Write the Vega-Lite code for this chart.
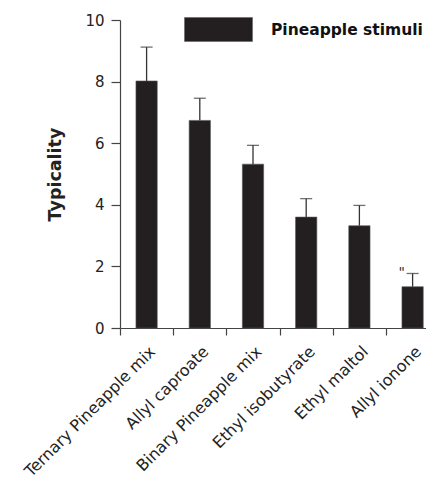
{
  "$schema": "https://vega.github.io/schema/vega-lite/v6.json",
  "width": 306,
  "height": 308,
  "autosize": {"type": "none"},
  "padding": {"left": 120, "top": 20, "right": 0, "bottom": 152},
  "background": "white",
  "config": {
    "view": {"stroke": null},
    "font": "DejaVu Sans",
    "axis": {"grid": false, "domainColor": "#444", "tickColor": "#444", "labelColor": "#222", "titleColor": "#222", "domainWidth": 1.2, "tickWidth": 1.2}
  },
  "data": {
    "values": [
      {"stimulus": "Ternary Pineapple mix", "typicality": 8.02, "upper": 9.12, "series": "Pineapple stimuli", "note": ""},
      {"stimulus": "Allyl caproate", "typicality": 6.74, "upper": 7.46, "series": "Pineapple stimuli", "note": ""},
      {"stimulus": "Binary Pineapple mix", "typicality": 5.32, "upper": 5.93, "series": "Pineapple stimuli", "note": ""},
      {"stimulus": "Ethyl isobutyrate", "typicality": 3.6, "upper": 4.2, "series": "Pineapple stimuli", "note": ""},
      {"stimulus": "Ethyl maltol", "typicality": 3.32, "upper": 3.98, "series": "Pineapple stimuli", "note": ""},
      {"stimulus": "Allyl ionone", "typicality": 1.34, "upper": 1.77, "series": "Pineapple stimuli", "note": "\""}
    ]
  },
  "encoding": {
    "x": {
      "field": "stimulus", "type": "nominal", "sort": null,
      "scale": {"paddingInner": 0, "paddingOuter": 0, "range": [0, 319.2]},
      "axis": {"title": null, "labelAngle": -45, "labelFontSize": 16, "labelAlign": "right", "labelBaseline": "top", "labelDx": 5, "labelLimit": 400, "tickBand": "extent", "tickSize": 7, "labelPadding": 8}
    }
  },
  "layer": [
    {
      "mark": {"type": "rule", "color": "#333", "strokeWidth": 1.3},
      "encoding": {
        "y": {"field": "typicality", "type": "quantitative"},
        "y2": {"field": "upper"}
      }
    },
    {
      "mark": {"type": "tick", "color": "#333", "size": 12, "thickness": 1.3},
      "encoding": {
        "y": {"field": "upper", "type": "quantitative"}
      }
    },
    {
      "mark": {"type": "bar", "width": {"band": 0.4}, "stroke": "#555", "strokeWidth": 0.6},
      "encoding": {
        "y": {
          "field": "typicality", "type": "quantitative",
          "scale": {"domain": [0, 10]},
          "axis": {"title": "Typicality", "titleFontSize": 17.5, "titleFontWeight": "bold", "titlePadding": 20, "labelFontSize": 15, "tickSize": 9, "labelPadding": 7, "values": [0, 2, 4, 6, 8, 10]}
        },
        "color": {
          "field": "series", "type": "nominal",
          "scale": {"range": ["#231f20"]},
          "legend": {
            "title": null, "orient": "none", "legendX": 64, "legendY": -25,
            "symbolType": "M-1,-0.353H1V0.353H-1Z", "symbolSize": 4624,
            "symbolStrokeColor": "#666", "symbolStrokeWidth": 0.6,
            "labelFontSize": 15.5, "labelFontWeight": "bold", "labelColor": "#111",
            "labelOffset": 18, "padding": 0
          }
        }
      }
    },
    {
      "mark": {"type": "text", "dx": -11, "dy": 0, "fontSize": 14, "color": "#333"},
      "encoding": {
        "y": {"field": "upper", "type": "quantitative"},
        "text": {"field": "note"}
      }
    }
  ]
}
